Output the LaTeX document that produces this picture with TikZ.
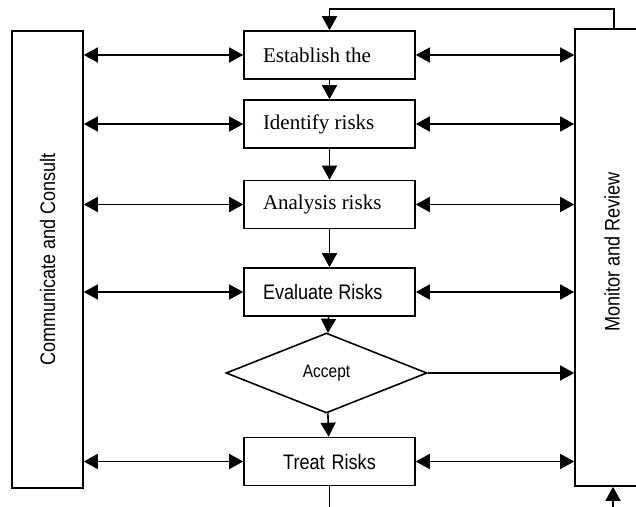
\documentclass[tikz,border=0pt]{standalone}
\usepackage{fontspec}
\setmainfont{Liberation Serif}
\newfontfamily\narrowsans[FakeStretch=0.86]{Liberation Sans}
\usetikzlibrary{shapes,arrows.meta,positioning,calc}

\begin{document}
\begin{tikzpicture}[x=1pt, y=-1pt,
    stagebox/.style={draw, line width=1.6pt, minimum height=48pt, text width=133pt, inner xsep=19pt, inner ysep=0pt, align=flush left, font=\fontsize{21}{24}\selectfont},
    sansbox/.style={stagebox, font=\narrowsans\fontsize{21}{24}\selectfont},
    sidebox/.style={draw, line width=1.6pt, minimum width=71pt, minimum height=457pt},
    sidelabel/.style={rotate=90, font=\narrowsans\fontsize{21}{24}\selectfont},
    flow/.style={line width=1.6pt, -{Triangle[length=14pt,width=15pt]}},
    twoway/.style={line width=1.6pt, {Triangle[length=14pt,width=15pt]}-{Triangle[length=14pt,width=15pt]}}]
    \useasboundingbox (0,0) rectangle (636,506);
    \clip (0,0) rectangle (636,506);

    % Side boxes
    \node[sidebox] (consult) at (47.5,259.5) {};
    \node[sidebox, minimum width=74pt] (monitor) at (612,257.5) {};
    \node[sidelabel] (consultlbl) at (consult) {Communicate and Consult};
    \node[sidelabel] (monitorlbl) at (612,252) {Monitor and Review};

    % Process steps
    \node[stagebox] (establish) at (329.5,55) {Establish the};
    \node[stagebox] (identify) at (329.5,124) {Identify risks};
    \node[stagebox] (analysis) at (329.5,204.5) {Analysis risks};
    \node[sansbox] (evaluate) at (329.5,292) {Evaluate Risks};
    \node[draw, diamond, line width=1.6pt, minimum width=201pt, minimum height=80pt, inner sep=0pt, font=\narrowsans\fontsize{18}{20}\selectfont] (accept) at (326.5,373) {Accept};
    \node[sansbox, align=center] (treat) at (329.5,461.5) {Treat Risks};

    % Flow down the middle
    \draw[flow] (establish) -- (identify);
    \draw[flow] (identify) -- (analysis);
    \draw[flow] (analysis) -- (evaluate);
    \draw[flow] (evaluate) -- (accept);
    \draw[flow] (accept) -- (treat);

    % Links to both sides
    \foreach \n in {establish,identify,analysis,evaluate,treat}{
        \draw[twoway] (consult.east |- \n.west) -- (\n.west);
        \draw[twoway] (\n.east) -- (monitor.west |- \n.east);
    }
    \draw[flow] (accept.east) -- (monitor.west |- accept.east);

    % Feedback loop
    \draw[flow] ([xshift=2pt]monitor.north) -- ++(0,-19) -| (establish.north);
    \coordinate (exit) at (329.5,515);
    \draw[line width=1.6pt] (treat.south) -- (exit);
    \coordinate (reentry) at (613,515);
    \draw[flow] (reentry) -- (reentry |- monitor.south);
\end{tikzpicture}
\end{document}
